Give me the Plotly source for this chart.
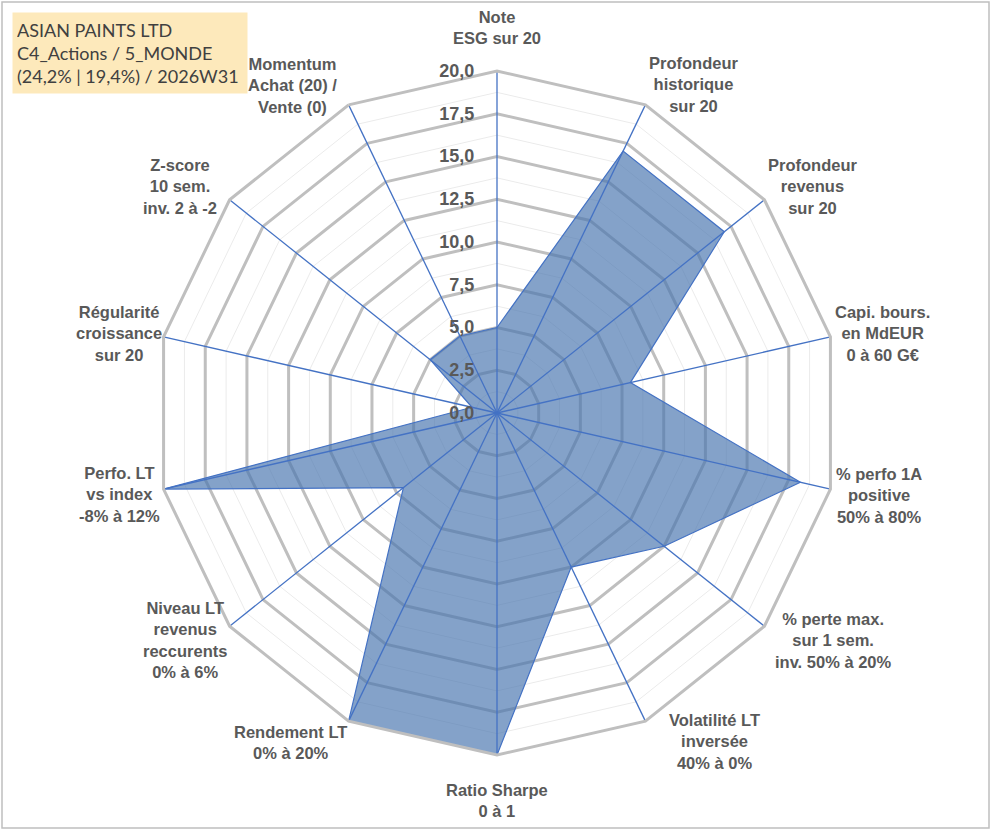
import plotly.graph_objects as go

# axes of the radar (clockwise from the top)
categories = [
    'Note<br>ESG sur 20',
    'Profondeur<br>historique<br>sur 20',
    'Profondeur<br>revenus<br>sur 20',
    'Capi. bours.<br>en MdEUR<br>0 à 60 G€',
    '% perfo 1A<br>positive<br>50% à 80%',
    '% perte max.<br>sur 1 sem.<br>inv. 50% à 20%',
    'Volatilité LT<br>inversée<br>40% à 0%',
    'Ratio Sharpe<br>0 à 1',
    'Rendement LT<br>0% à 20%',
    'Niveau LT<br>revenus<br>reccurents<br>0% à 6%',
    'Perfo. LT<br>vs index<br>-8% à 12%',
    'Régularité<br>croissance<br>sur 20',
    'Z-score<br>10 sem.<br>inv. 2 à -2',
    'Momentum<br>Achat (20) /<br>Vente (0)',
]
scores = [5.0, 17.0, 17.0, 8.0, 18.2, 12.5, 10.0, 20.0, 20.0, 7.0, 20.0, 1.5, 5.0, 5.0]

title_lines = ['ASIAN PAINTS LTD', 'C4_Actions / 5_MONDE', '(24,2% | 19,4%) / 2026W31']

r_max = 20
major_step = 2.5
minor_rings = [1.25, 3.75, 6.25, 8.75, 11.25, 13.75, 16.25, 18.75]

# label centres in pixels (x, y) on the 991x830 canvas
label_pos = [
    (497, 27), (693, 85), (812, 186), (882, 333), (879, 495), (833, 640),
    (714, 741), (497, 800), (290, 742), (185, 640), (119, 494), (119, 333),
    (180, 186), (292, 86),
]

W, H = 991, 830
cx, cy, R = 497, 413, 342

closed = categories + [categories[0]]

fig = go.Figure()

# faint minor rings
for v in minor_rings:
    fig.add_trace(go.Scatterpolar(
        r=[v] * len(closed), theta=closed, mode='lines',
        line=dict(color='#EBEBEB', width=1), hoverinfo='skip', showlegend=False))

# data polygon
fig.add_trace(go.Scatterpolar(
    r=scores + [scores[0]], theta=closed, mode='lines',
    fill='toself', fillcolor='rgba(74,118,176,0.68)',
    line=dict(color='#4472C4', width=1.2), showlegend=False))

# blue spokes drawn above the fill
for c in categories:
    fig.add_trace(go.Scatterpolar(
        r=[0, r_max], theta=[c, c], mode='lines',
        line=dict(color='#4472C4', width=1.3), hoverinfo='skip', showlegend=False))

fig.update_layout(
    width=W, height=H,
    margin=dict(l=0, r=0, t=0, b=0),
    paper_bgcolor='white',
    separators=', ',
    font=dict(family='Liberation Sans, Arial, sans-serif', color='#595959'),
    polar=dict(
        domain=dict(x=[(cx - R) / W, (cx + R) / W], y=[1 - (cy + R) / H, 1 - (cy - R) / H]),
        bgcolor='white',
        gridshape='linear',
        angularaxis=dict(
            type='category', categoryorder='array', categoryarray=categories,
            showticklabels=False, ticks='',
            rotation=90, direction='clockwise',
            showgrid=False, showline=True, linecolor='#BFBFBF', linewidth=3,
        ),
        radialaxis=dict(
            range=[0, r_max], dtick=major_step, tick0=0, tickformat='.1f',
            angle=90, tickangle=90, side='counterclockwise',
            showline=False, gridcolor='#BFBFBF', gridwidth=2.5,
            ticks='outside', ticklen=16, tickcolor='rgba(0,0,0,0)',
            tickfont=dict(size=18, color='#595959', weight='bold'),
        ),
    ),
)

# category labels
for text, (px, py) in zip(categories, label_pos):
    fig.add_annotation(
        x=px / W, y=1 - py / H, xref='paper', yref='paper',
        text=text, showarrow=False, align='center',
        xanchor='center', yanchor='middle',
        font=dict(size=16.5, color='#595959', weight='bold'),
    )

# title box
fig.add_annotation(
    x=12 / W, y=1 - 12 / H, xref='paper', yref='paper',
    xanchor='left', yanchor='top', align='left', showarrow=False,
    text='<br>'.join(title_lines),
    bgcolor='#FDE9BB', borderpad=4, width=226, height=72,
    font=dict(family='Lato, Open Sans, sans-serif', size=18, color='#404040'),
)

# chart frame
fig.add_shape(type='rect', xref='paper', yref='paper',
              x0=2 / W, x1=1 - 2 / W, y0=2 / H, y1=1 - 2 / H,
              line=dict(color='#BFBFBF', width=1.5))

fig.write_html('out.html', config={'displayModeBar': False},
               post_script="document.body.style.margin='0';")
